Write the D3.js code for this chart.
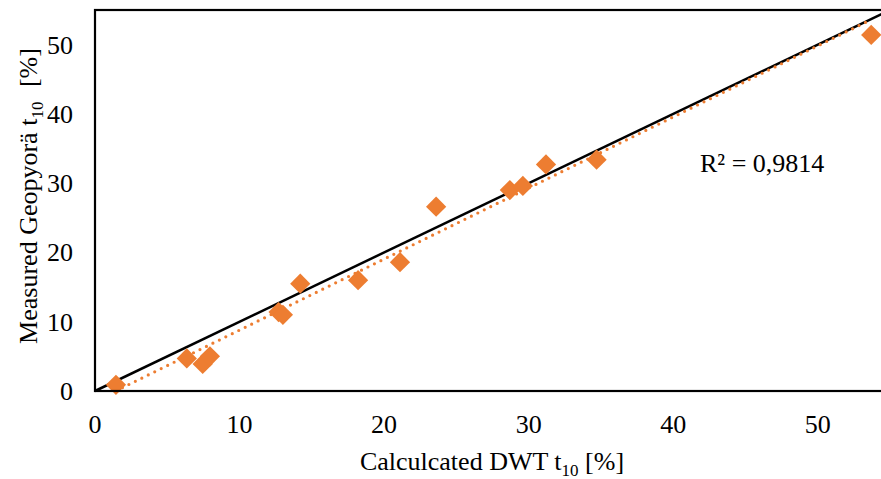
<!DOCTYPE html>
<html>
<head>
<meta charset="utf-8">
<script src="https://cdn.jsdelivr.net/npm/d3@7/dist/d3.min.js"></script>
<style>
  body { margin: 0; background: #fff; }
  svg { display: block; font-family: "Liberation Serif", "Times New Roman", serif; }
</style>
</head>
<body>
<div id="chart"></div>
<script>
// calculated DWT t10 (x) vs measured Geopyorä t10 (y), in %
const calcT10 = [1.45, 6.35, 7.45, 7.95, 12.7, 13.0, 14.2, 18.2, 21.1, 23.6, 28.7, 29.6, 31.2, 34.7, 53.7];
const measT10 = [0.9, 4.7, 3.9, 5.0, 11.4, 11.0, 15.5, 16.0, 18.6, 26.6, 29.0, 29.6, 32.7, 33.4, 51.4];
const xTicks = [0, 10, 20, 30, 40, 50];
const yTicks = [0, 10, 20, 30, 40, 50];
const r2Label = 'R² = 0,9814';

const W = 881, H = 479;
const orange = '#ED7D31';
const fs = 26;

const svg = d3.select('#chart').append('svg')
  .attr('width', W).attr('height', H);

// plot box runs a bit past the right edge of the picture
const x = d3.scaleLinear().domain([0, 55]).range([95, 890]);
const y = d3.scaleLinear().domain([0, 55]).range([391, 10]);

const points = calcT10.map((v, i) => ({ x: v, y: measT10[i] }));

// least squares trendline over the data range
const mx = d3.mean(points, d => d.x), my = d3.mean(points, d => d.y);
const sxy = d3.sum(points, d => (d.x - mx) * (d.y - my));
const sxx = d3.sum(points, d => (d.x - mx) ** 2);
const slope = sxy / sxx, icept = my - slope * mx;
const xExt = d3.extent(calcT10);

// 1:1 line
svg.append('line')
  .attr('x1', x(0)).attr('y1', y(0))
  .attr('x2', x(55)).attr('y2', y(55))
  .attr('stroke', '#000').attr('stroke-width', 2.5);

// trendline (dotted)
svg.append('line')
  .attr('x1', x(xExt[0])).attr('y1', y(icept + slope * xExt[0]))
  .attr('x2', x(xExt[1])).attr('y2', y(icept + slope * xExt[1]))
  .attr('stroke', orange).attr('stroke-width', 3.2)
  .attr('stroke-linecap', 'round')
  .attr('stroke-dasharray', '0 7.2');

// markers
const diamond = d3.symbol().type(d3.symbolSquare).size(205);
svg.append('g').selectAll('path')
  .data(points)
  .join('path')
  .attr('d', diamond)
  .attr('transform', d => `translate(${x(d.x)},${y(d.y)}) rotate(45)`)
  .attr('fill', orange);

// plot frame
svg.append('rect')
  .attr('x', x(0)).attr('y', y(55))
  .attr('width', x(55) - x(0)).attr('height', y(0) - y(55))
  .attr('fill', 'none').attr('stroke', '#000').attr('stroke-width', 2.2);

// tick labels
svg.append('g').selectAll('text')
  .data(xTicks)
  .join('text')
  .attr('x', d => x(d)).attr('y', 433)
  .attr('text-anchor', 'middle')
  .attr('font-size', fs)
  .text(d => d);

svg.append('g').selectAll('text')
  .data(yTicks)
  .join('text')
  .attr('x', 73).attr('y', d => y(d) + 9)
  .attr('text-anchor', 'end')
  .attr('font-size', fs)
  .text(d => d);

// axis titles
const xt = svg.append('text')
  .attr('x', 492).attr('y', 470)
  .attr('text-anchor', 'middle')
  .attr('font-size', fs);
xt.append('tspan').text('Calculcated DWT t');
xt.append('tspan').attr('font-size', 17).attr('dy', 6).text('10');
xt.append('tspan').attr('dy', -6).text(' [%]');

const yt = svg.append('text')
  .attr('transform', `translate(37,196) rotate(-90)`)
  .attr('text-anchor', 'middle')
  .attr('font-size', fs);
yt.append('tspan').text('Measured Geopyorä t');
yt.append('tspan').attr('font-size', 17).attr('dy', 6).text('10');
yt.append('tspan').attr('dy', -6).attr('dx', 8).text(' [%]');

svg.append('text')
  .attr('x', 700).attr('y', 172)
  .attr('font-size', fs)
  .text(r2Label);
</script>
</body>
</html>
